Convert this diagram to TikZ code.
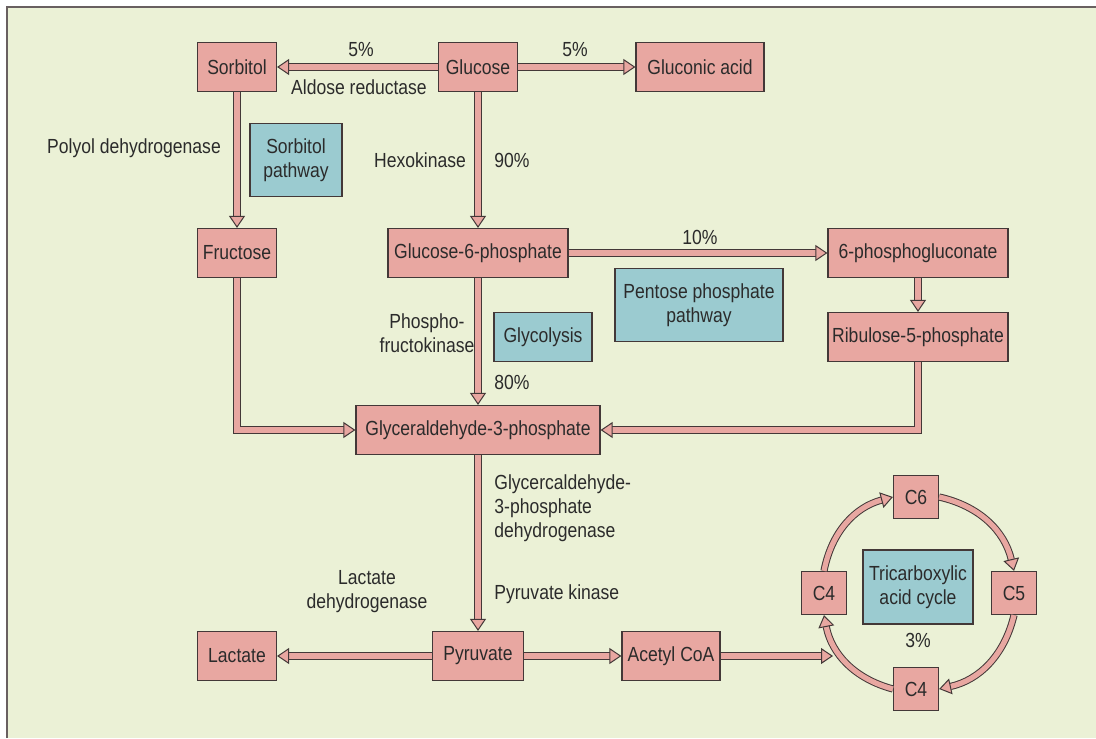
\documentclass[tikz,border=0pt]{standalone}
\usepackage{fontspec}
\setmainfont{Liberation Sans}[FakeStretch=0.86]
\usetikzlibrary{arrows.meta,positioning}
\definecolor{mtpink}{HTML}{E8A7A1}
\definecolor{mtblue}{HTML}{9BCBD0}
\definecolor{mtbg}{HTML}{EBF1D6}
\definecolor{mtline}{HTML}{433838}
\definecolor{mttext}{HTML}{2B2B2B}
\tikzset{
  stepBox/.style={draw=mtline, fill=mtpink, line width=0.6pt, inner sep=2pt, minimum height=24.5pt, align=center},
  pathBox/.style={draw=mtline, fill=mtblue, line width=0.6pt, inner sep=2pt, align=center},
  cycBox/.style={stepBox, minimum width=22.5pt, minimum height=21.5pt},
  flowArrow/.style={draw=mtline, line width=0.5pt, double=mtpink, double distance=2.6pt,
    -{Triangle[width=8pt, length=6pt, fill=mtpink, line width=0.5pt]}},
  enzLabel/.style={align=center, inner sep=1pt}
}
\begin{document}
\begin{tikzpicture}[x=0.5pt, y=-0.5pt, font=\fontsize{10.2}{12}\selectfont, text=mttext]
  \fill[white] (0,0) rectangle (1096,738);
  \useasboundingbox (0,0) rectangle (1096,738);
  \fill[mtbg] (7,7) rectangle (1096,738);
  \draw[mtline!80, line width=1pt] (7,738) -- (7,7) -- (1096,7);

  % top row
  \node[stepBox, minimum width=39.5pt] (sorbitol) at (237,67) {Sorbitol};
  \node[stepBox, minimum width=39.5pt] (glucose) at (478,67) {Glucose};
  \node[stepBox, minimum width=64pt] (gluconic) at (700,67) {Gluconic acid};
  % second row
  \node[stepBox, minimum width=39.5pt] (fructose) at (237,253) {Fructose};
  \node[stepBox, minimum width=90pt] (g6p) at (478,253) {Glucose-6-phosphate};
  \node[stepBox, minimum width=90pt] (pgluc) at (918,253) {6-phosphogluconate};
  \node[stepBox, minimum width=90pt] (ribulose) at (918,337) {Ribulose-5-phosphate};
  \node[stepBox, minimum width=122pt] (g3p) at (478,430) {Glyceraldehyde-3-phosphate};
  % bottom row
  \node[stepBox, minimum width=39.5pt] (lactate) at (237,656) {Lactate};
  \node[stepBox, minimum width=45.5pt] (pyruvate) at (478,656) {Pyruvate};
  \node[stepBox, minimum width=49pt] (acetyl) at (671,656) {Acetyl CoA};
  \coordinate (tcain) at (833,656);

  % pathway boxes
  \node[pathBox, minimum width=46pt, minimum height=36.5pt] (sorbpath) at (296,160) {Sorbitol\\ pathway};
  \node[pathBox, minimum width=49pt, minimum height=24.5pt] (glycpath) at (543,337) {Glycolysis};
  \node[pathBox, minimum width=84pt, minimum height=36.5pt] (pentpath) at (699,305) {Pentose phosphate\\ pathway};
  \node[pathBox, minimum width=55pt, minimum height=37pt] (tcapath) at (918,587) {Tricarboxylic\\ acid cycle};

  % citric acid cycle
  \node[cycBox] (c6) at (916,497) {C6};
  \node[cycBox] (c5) at (1014,593) {C5};
  \node[cycBox] (c4b) at (916,689) {C4};
  \node[cycBox] (c4l) at (824,593) {C4};

  % enzymes and shares
  \node[enzLabel] (l5a) at (361,50) {5\%};
  \node[enzLabel] (aldose) at (359,87) {Aldose reductase};
  \node[enzLabel] (l5b) at (575,50) {5\%};
  \node[enzLabel] (polyol) at (134,148) {Polyol dehydrogenase};
  \node[enzLabel] (hexo) at (420,160) {Hexokinase};
  \node[enzLabel] (l90) at (512,160) {90\%};
  \node[enzLabel] (l10) at (700,237) {10\%};
  \node[enzLabel] (pfk) at (427,333) {Phospho-\\ fructokinase};
  \node[enzLabel] (l80) at (512,382) {80\%};
  \node[enzLabel, anchor=west, align=left] (gapdh) at (492,508) {Glycercaldehyde-\\ 3-phosphate\\ dehydrogenase};
  \node[enzLabel, anchor=west] (pk) at (492,594) {Pyruvate kinase};
  \node[enzLabel] (ldh) at (367,592) {Lactate\\ dehydrogenase};
  \node[enzLabel] (l3) at (918,640) {3\%};

  % connectors
  \draw[flowArrow] (glucose) -- (sorbitol);
  \draw[flowArrow] (glucose) -- (gluconic);
  \draw[flowArrow] (sorbitol) -- (fructose);
  \draw[flowArrow] (glucose) -- (g6p);
  \draw[flowArrow] (g6p) -- (pgluc);
  \draw[flowArrow] (pgluc) -- (ribulose);
  \draw[flowArrow] (ribulose) |- (g3p);
  \draw[flowArrow] (fructose) |- (g3p);
  \draw[flowArrow] (g6p) -- (g3p);
  \draw[flowArrow] (g3p) -- (pyruvate);
  \draw[flowArrow] (pyruvate) -- (lactate);
  \draw[flowArrow] (pyruvate) -- (acetyl);
  \draw[flowArrow] (acetyl) -- (tcain);
  \draw[flowArrow] (c4l.north) to[bend left=32] (c6.west);
  \draw[flowArrow] (c6.east) to[bend left=32] (c5.north);
  \draw[flowArrow] (c5.south) to[bend left=32] (c4b.east);
  \draw[flowArrow] (c4b.west) to[bend left=32] (c4l.south);
\end{tikzpicture}
\end{document}
